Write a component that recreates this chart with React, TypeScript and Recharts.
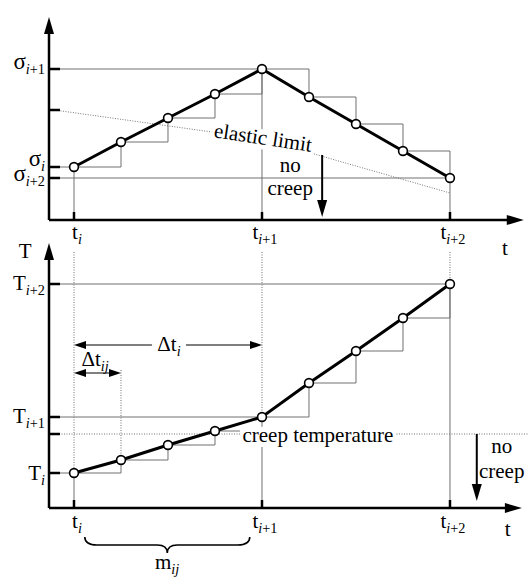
import React from "react";
import { ComposedChart, Line, XAxis, YAxis, ReferenceLine, ReferenceDot } from "recharts";

// time in sub-steps: t_i = 0, t_i+1 = 4, t_i+2 = 8
const steps = [0, 1, 2, 3, 4, 5, 6, 7, 8];
const stressValues = [5.3, 7.8, 10.2, 12.6, 15.1, 12.3, 9.6, 6.9, 4.2];
const temperatureValues = [3.5, 4.8, 6.3, 7.7, 9.1, 12.5, 15.7, 19.0, 22.4];

const elasticLimitTimes = [-0.34, 4, 8];
const elasticLimitValues = [10.95, 8.1, 2.7];
const creepTemperature = 7.4;

const timeTicks = [0, 4, 8];
const timeTickSubs = ["i", "i+1", "i+2"];

const stressTicks = [15.1, 11.0, 5.3, 4.2];
const stressTickBases = ["σ", "", "σ", "σ"];
const stressTickSubs = ["i+1", "", "i", "i+2"];

const tempTicks = [22.4, 9.1, 7.4, 3.5];
const tempTickBases = ["T", "T", "", "T"];
const tempTickSubs = ["i+2", "i+1", "", "i"];

const X_MIN = -0.532;
const X_MAX = 9.66;
const STRESS_MAX = 20.3;
const TEMP_MAX = 26.5;

const FONT = "Liberation Serif, Times New Roman, serif";
const GUIDE = "#707070";

const stressData = steps.map((x, k) => ({ x, y: stressValues[k] }));
const tempData = steps.map((x, k) => ({ x, y: temperatureValues[k] }));
const elasticData = elasticLimitTimes.map((x, k) => ({ x, y: elasticLimitValues[k] }));

function Sub({ text }: { text: string }) {
  return (
    <>
      {text.split("").map((c, k) => (
        <tspan key={k} fontStyle={/[a-z]/.test(c) ? "italic" : "normal"}>
          {c}
        </tspan>
      ))}
    </>
  );
}

function MathLabel({ x, y, base, sub, anchor = "middle", size = 21, baseSize }: any) {
  return (
    <text x={x} y={y} textAnchor={anchor} style={{ fontFamily: FONT }} fill="#000">
      <tspan fontSize={baseSize || size}>{base}</tspan>
      {sub ? (
        <tspan dy={size * 0.22} fontSize={size * 0.68}>
          <Sub text={sub} />
        </tspan>
      ) : null}
    </text>
  );
}

const makeYTick = (ticks: number[], bases: string[], subs: string[], nudges: number[], baseSize: number) =>
  (p: any) => {
    const k = ticks.indexOf(p.payload.value);
    return (
      <g>
        <line x1={p.x} x2={p.x + 11} y1={p.y} y2={p.y} stroke="#000" strokeWidth={2.5} />
        {bases[k] ? (
          <MathLabel x={p.x - 4} y={p.y + nudges[k]} base={bases[k]} sub={subs[k]} anchor="end" baseSize={baseSize} />
        ) : null}
      </g>
    );
  };

const makeXTick = (gap: number) => (p: any) => {
  const k = timeTicks.indexOf(p.payload.value);
  return (
    <g>
      <line x1={p.x} x2={p.x} y1={p.y} y2={p.y - 8} stroke="#000" strokeWidth={2.5} />
      <MathLabel x={p.x + 3} y={p.y + gap} base="t" sub={timeTickSubs[k]} />
    </g>
  );
};

const arrow = (width: number, head: number, half: number, both = false) => (p: any) => {
  const { x1, y1, x2, y2 } = p;
  const dx = x2 - x1;
  const dy = y2 - y1;
  const len = Math.hypot(dx, dy) || 1;
  const ux = dx / len;
  const uy = dy / len;
  const tri = (tx: number, ty: number, sx: number, sy: number) => {
    const bx = tx - sx * head;
    const by = ty - sy * head;
    return `${tx},${ty} ${bx - sy * half},${by + sx * half} ${bx + sy * half},${by - sx * half}`;
  };
  return (
    <g>
      <line
        x1={both ? x1 + ux * head * 0.8 : x1}
        y1={both ? y1 + uy * head * 0.8 : y1}
        x2={x2 - ux * head * 0.8}
        y2={y2 - uy * head * 0.8}
        stroke="#000"
        strokeWidth={width}
      />
      <polygon points={tri(x2, y2, ux, uy)} fill="#000" />
      {both ? <polygon points={tri(x1, y1, -ux, -uy)} fill="#000" /> : null}
    </g>
  );
};

const brace = (p: any) => {
  const { x1, x2, y1 } = p;
  const cx = (x1 + x2) / 2;
  const d = `M${x1},${y1} Q${x1},${y1 + 8} ${x1 + 12},${y1 + 8} L${cx - 10},${y1 + 8} Q${cx},${y1 + 8} ${cx},${y1 + 16} Q${cx},${y1 + 8} ${cx + 10},${y1 + 8} L${x2 - 12},${y1 + 8} Q${x2},${y1 + 8} ${x2},${y1}`;
  return <path d={d} fill="none" stroke="#000" strokeWidth={1.6} />;
};

const words = (text: string, opts: any = {}) => (p: any) => {
  const size = opts.size || 21;
  const w = opts.bg || 0;
  const rot = opts.rotate || 0;
  return (
    <g transform={rot ? `rotate(${rot} ${p.cx} ${p.cy})` : undefined}>
      {w ? <rect x={p.cx - w / 2} y={p.cy - size * 0.72} width={w} height={size * 0.95} fill="#fff" /> : null}
      <text x={p.cx} y={p.cy} textAnchor="middle" style={{ fontFamily: FONT }} fontSize={size} fill="#000">
        {text}
      </text>
    </g>
  );
};

const mathWords = (base: string, sub: string, bg: number) => (p: any) => (
  <g>
    {bg ? <rect x={p.cx - bg / 2} y={p.cy - 15} width={bg} height={20} fill="#fff" /> : null}
    <MathLabel x={p.cx} y={p.cy} base={base} sub={sub} />
  </g>
);

const dot = (p: any) => (
  <circle key={`dot-${p.index}`} cx={p.cx} cy={p.cy} r={4.4} fill="#fff" stroke="#000" strokeWidth={1.6} />
);

const seg = (a: number[], b: number[]) => [
  { x: a[0], y: a[1] },
  { x: b[0], y: b[1] },
];

export default function App() {
  return (
    <div style={{ position: "absolute", left: 0, top: 0, width: 528, height: 578, background: "#fff" }}>
      <div style={{ position: "absolute", left: 0, top: 0 }}>
        <ComposedChart width={528} height={262} margin={{ top: 17, right: 0, bottom: 0, left: 0 }}>
          <XAxis
            type="number"
            dataKey="x"
            domain={[X_MIN, X_MAX]}
            allowDataOverflow
            ticks={timeTicks}
            interval={0}
            height={42}
            axisLine={false}
            tickLine={false}
            tickSize={0}
            tickMargin={0}
            tick={makeXTick(19)}
          />
          <YAxis
            type="number"
            domain={[0, STRESS_MAX]}
            allowDataOverflow
            ticks={stressTicks}
            interval={0}
            width={49}
            axisLine={false}
            tickLine={false}
            tickSize={0}
            tickMargin={0}
            tick={makeYTick(stressTicks, stressTickBases, stressTickSubs, [0, 0, -1, 3], 23)}
          />
          <ReferenceLine segment={seg([X_MIN, 15.1], [4, 15.1])} stroke={GUIDE} ifOverflow="visible" />
          <ReferenceLine segment={seg([X_MIN, 5.3], [0, 5.3])} stroke={GUIDE} ifOverflow="visible" />
          <ReferenceLine segment={seg([X_MIN, 4.2], [8, 4.2])} stroke={GUIDE} ifOverflow="visible" />
          <ReferenceLine segment={seg([0, 5.3], [0, 0])} stroke={GUIDE} ifOverflow="visible" />
          <ReferenceLine segment={seg([4, 15.1], [4, 0])} stroke={GUIDE} ifOverflow="visible" />
          <ReferenceLine segment={seg([8, 4.2], [8, 0])} stroke={GUIDE} ifOverflow="visible" />
          <Line
            data={elasticData}
            dataKey="y"
            type="linear"
            stroke="#777"
            strokeWidth={1}
            strokeDasharray="1 1.5"
            dot={false}
            isAnimationActive={false}
          />
          <Line data={stressData} dataKey="y" type="stepAfter" stroke={GUIDE} strokeWidth={1} dot={false} isAnimationActive={false} />
          <Line data={stressData} dataKey="y" type="linear" stroke="#000" strokeWidth={3} dot={dot} isAnimationActive={false} />
          <ReferenceLine segment={seg([X_MIN, 0], [9.57, 0])} ifOverflow="visible" shape={arrow(2.5, 17, 5)} />
          <ReferenceLine segment={seg([X_MIN, 0], [X_MIN, STRESS_MAX])} ifOverflow="visible" shape={arrow(2.5, 17, 5)} />
          <ReferenceLine segment={seg([5.28, 6.5], [5.28, 0.3])} ifOverflow="visible" shape={arrow(2, 17, 5)} />
          <ReferenceDot x={4} y={7.55} ifOverflow="visible" shape={words("elastic limit", { bg: 104, rotate: 8.5 })} />
          <ReferenceDot x={4.6} y={4.8} ifOverflow="visible" shape={words("no")} />
          <ReferenceDot x={4.6} y={2.5} ifOverflow="visible" shape={words("creep")} />
          <ReferenceDot x={9.17} y={-3.5} ifOverflow="visible" shape={words("t")} />
        </ComposedChart>
      </div>
      <div style={{ position: "absolute", left: 0, top: 236 }}>
        <ComposedChart width={528} height={342} margin={{ top: 7, right: 0, bottom: 0, left: 0 }}>
          <XAxis
            type="number"
            dataKey="x"
            domain={[X_MIN, X_MAX]}
            allowDataOverflow
            ticks={timeTicks}
            interval={0}
            height={70}
            axisLine={false}
            tickLine={false}
            tickSize={0}
            tickMargin={0}
            tick={makeXTick(20)}
          />
          <YAxis
            type="number"
            domain={[0, TEMP_MAX]}
            allowDataOverflow
            ticks={tempTicks}
            interval={0}
            width={49}
            axisLine={false}
            tickLine={false}
            tickSize={0}
            tickMargin={0}
            tick={makeYTick(tempTicks, tempTickBases, tempTickSubs, [6, 6, 0, 7], 21)}
          />
          <ReferenceLine segment={seg([X_MIN, 22.4], [8, 22.4])} stroke={GUIDE} ifOverflow="visible" />
          <ReferenceLine segment={seg([X_MIN, 9.1], [4, 9.1])} stroke={GUIDE} ifOverflow="visible" />
          <ReferenceLine segment={seg([X_MIN, 3.5], [0, 3.5])} stroke={GUIDE} ifOverflow="visible" />
          <ReferenceLine segment={seg([0, 3.5], [0, 0])} stroke={GUIDE} ifOverflow="visible" />
          <ReferenceLine segment={seg([4, 6.1], [4, 0])} stroke={GUIDE} ifOverflow="visible" />
          <ReferenceLine segment={seg([8, 22.4], [8, 0])} stroke={GUIDE} ifOverflow="visible" />
          <ReferenceLine segment={seg([0, 25.6], [0, 3.5])} stroke={GUIDE} strokeDasharray="1 1.5" ifOverflow="visible" />
          <ReferenceLine segment={seg([4, 25.6], [4, 9.1])} stroke={GUIDE} strokeDasharray="1 1.5" ifOverflow="visible" />
          <ReferenceLine segment={seg([8, 25.6], [8, 22.4])} stroke={GUIDE} strokeDasharray="1 1.5" ifOverflow="visible" />
          <ReferenceLine segment={seg([1, 13.8], [1, 4.8])} stroke={GUIDE} strokeDasharray="1 1.5" ifOverflow="visible" />
          <ReferenceLine
            segment={seg([X_MIN, creepTemperature], [X_MAX, creepTemperature])}
            stroke={GUIDE}
            strokeDasharray="1 1.5"
            ifOverflow="visible"
          />
          <Line data={tempData} dataKey="y" type="stepAfter" stroke={GUIDE} strokeWidth={1} dot={false} isAnimationActive={false} />
          <Line data={tempData} dataKey="y" type="linear" stroke="#000" strokeWidth={3} dot={dot} isAnimationActive={false} />
          <ReferenceLine segment={seg([X_MIN, 0], [9.53, 0])} ifOverflow="visible" shape={arrow(2.5, 17, 5)} />
          <ReferenceLine segment={seg([X_MIN, 0], [X_MIN, TEMP_MAX])} ifOverflow="visible" shape={arrow(2.5, 17, 5)} />
          <ReferenceLine segment={seg([8.57, creepTemperature], [8.57, 0.7])} ifOverflow="visible" shape={arrow(2, 17, 5)} />
          <ReferenceLine segment={seg([0, 16.3], [4, 16.3])} ifOverflow="visible" shape={arrow(1, 12, 4, true)} />
          <ReferenceLine segment={seg([0, 13.5], [1, 13.5])} ifOverflow="visible" shape={arrow(1, 12, 4, true)} />
          <ReferenceLine segment={seg([0.23, -2.9], [3.74, -2.9])} ifOverflow="visible" shape={brace} />
          <ReferenceDot x={2.02} y={15.7} ifOverflow="visible" shape={mathWords("Δt", "i", 34)} />
          <ReferenceDot x={0.45} y={14.2} ifOverflow="visible" shape={mathWords("Δt", "ij", 0)} />
          <ReferenceDot x={5.19} y={6.6} ifOverflow="visible" shape={words("creep temperature", { bg: 156 })} />
          <ReferenceDot x={9.1} y={5.5} ifOverflow="visible" shape={words("no")} />
          <ReferenceDot x={9.1} y={3.0} ifOverflow="visible" shape={words("creep")} />
          <ReferenceDot x={9.23} y={-2.8} ifOverflow="visible" shape={words("t")} />
          <ReferenceDot x={-1.04} y={25.0} ifOverflow="visible" shape={words("T", { size: 21 })} />
          <ReferenceDot x={1.98} y={-6.1} ifOverflow="visible" shape={mathWords("m", "ij", 0)} />
        </ComposedChart>
      </div>
    </div>
  );
}
